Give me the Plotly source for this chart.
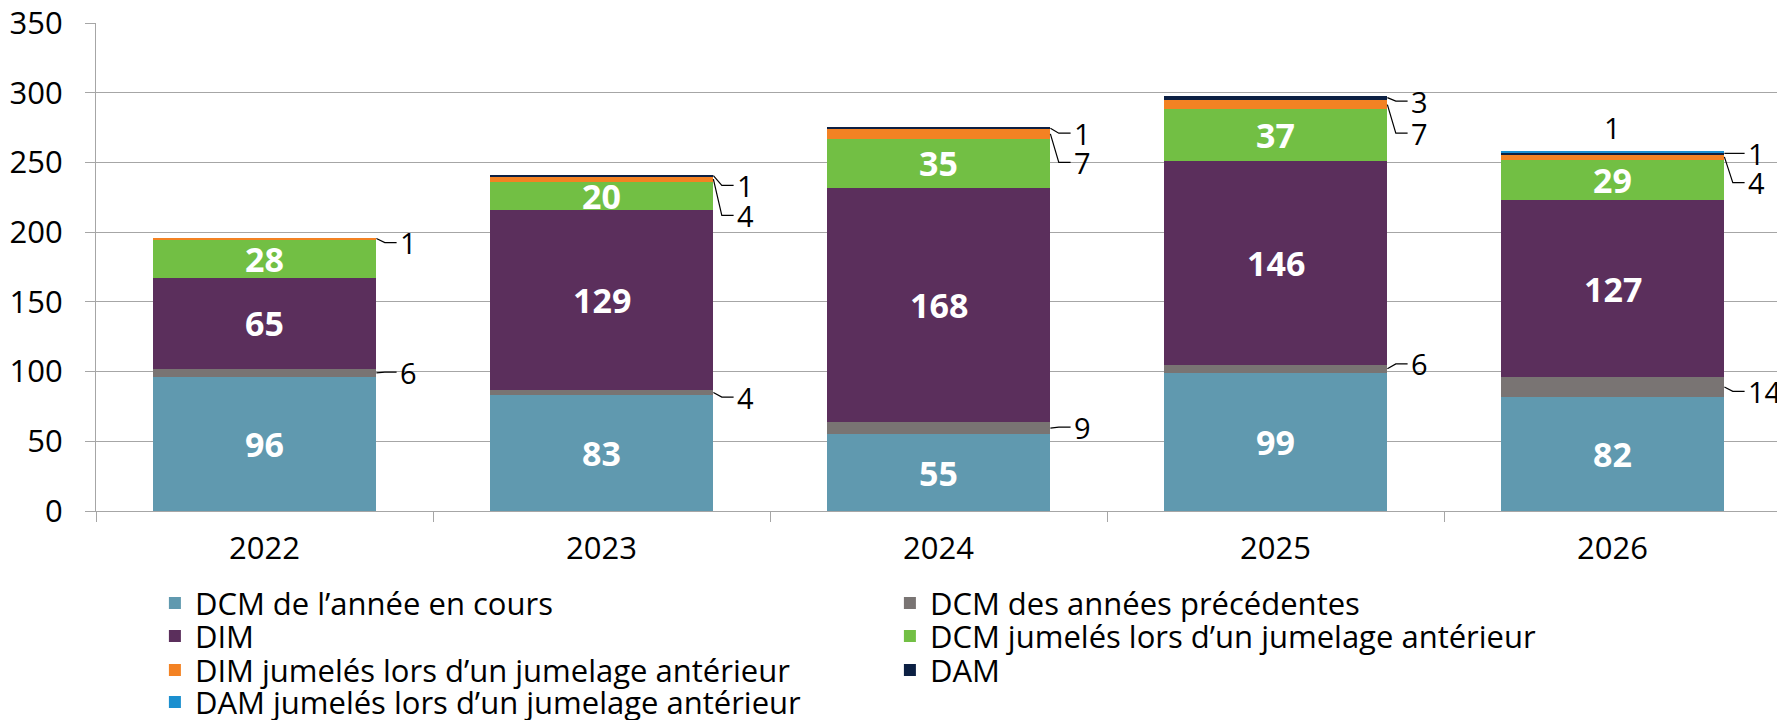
import plotly.graph_objects as go

# ---- data ----
years = ["2022", "2023", "2024", "2025", "2026"]
dcm_cours = [96, 83, 55, 99, 82]
dcm_prec = [6, 4, 9, 6, 14]
dim = [65, 129, 168, 146, 127]
dcm_jum = [28, 20, 35, 37, 29]
dim_jum = [1, 4, 7, 7, 4]
dam = [0, 1, 1, 3, 1]
dam_jum = [0, 0, 0, 0, 1]

series = [
    ("dcm_cours", "DCM de l\u2019ann\u00e9e en cours", dcm_cours, "#6099AF"),
    ("dcm_prec", "DCM des ann\u00e9es pr\u00e9c\u00e9dentes", dcm_prec, "#797473"),
    ("dim", "DIM", dim, "#5B2F5C"),
    ("dcm_jum", "DCM jumel\u00e9s lors d\u2019un jumelage ant\u00e9rieur", dcm_jum, "#72BF44"),
    ("dim_jum", "DIM jumel\u00e9s lors d\u2019un jumelage ant\u00e9rieur", dim_jum, "#F38223"),
    ("dam", "DAM", dam, "#0C2043"),
    ("dam_jum", "DAM jumel\u00e9s lors d\u2019un jumelage ant\u00e9rieur", dam_jum, "#1B8FCF"),
]
inside_labels = ["dcm_cours", "dim", "dcm_jum"]

# callout label placement (series, year index, label y)
callouts = [
    ("dcm_prec", 0, 99.6), ("dim_jum", 0, 192.5),
    ("dcm_prec", 1, 81.7), ("dam", 1, 233.5), ("dim_jum", 1, 212.0),
    ("dcm_prec", 2, 60.2), ("dam", 2, 271.0), ("dim_jum", 2, 250.0),
    ("dcm_prec", 3, 105.5), ("dam", 3, 294.0), ("dim_jum", 3, 271.0),
    ("dcm_prec", 4, 85.8), ("dam", 4, 256.5), ("dim_jum", 4, 235.5),
]
above_labels = [("dam_jum", 4, 275.0)]

FONT = "Open Sans"
xs = list(range(len(years)))
half_w = 0.332

fig = go.Figure()
legend_of = ["legend", "legend", "legend2", "legend2", "legend3", "legend3", "legend4"]
for (key, name, vals, col), lg in zip(series, legend_of):
    fig.add_trace(go.Bar(x=xs, y=vals, name=name, marker=dict(color=col, line=dict(width=0)),
                         width=2 * half_w, legend=lg))

# cumulative bottoms
bottoms = {}
cum = [0] * len(years)
for key, name, vals, col in series:
    bottoms[key] = cum[:]
    cum = [c + v for c, v in zip(cum, vals)]
vals_of = {k: v for k, _, v, _ in series}

annotations = []
shapes = []
for key in inside_labels:
    for i, v in enumerate(vals_of[key]):
        annotations.append(dict(x=xs[i], y=bottoms[key][i] + v / 2, text=str(v), showarrow=False,
                                xref="x", yref="y",
                                font=dict(family=FONT, size=34, color="white", weight="bold")))

for key, i, ly in callouts:
    v = vals_of[key][i]
    mid = bottoms[key][i] + v / 2
    x0 = xs[i] + half_w
    shapes.append(dict(type="path", xref="x", yref="y",
                       path=f"M {x0},{mid} L {x0 + 0.025},{ly} L {x0 + 0.060},{ly}",
                       line=dict(color="black", width=1.2), layer="above"))
    annotations.append(dict(x=xs[i] + half_w + 0.064, y=ly, text=str(v), showarrow=False,
                            xref="x", yref="y", xanchor="left", yanchor="middle",
                            font=dict(family=FONT, size=29, color="black")))
for key, i, ly in above_labels:
    v = vals_of[key][i]
    annotations.append(dict(x=xs[i], y=ly, text=str(v), showarrow=False, xref="x", yref="y",
                            xanchor="center", yanchor="middle",
                            font=dict(family=FONT, size=29, color="black")))

leg_common = dict(orientation="h", x=0.0823, xref="container", yref="container",
                  xanchor="left", yanchor="middle", traceorder="normal",
                  font=dict(family=FONT, size=31, color="black"),
                  entrywidth=690, entrywidthmode="pixels", bgcolor="rgba(0,0,0,0)",
                  itemclick=False, itemdoubleclick=False)

fig.update_layout(
    width=1785, height=720,
    margin=dict(l=88, r=12, t=15, b=217, autoexpand=False),
    barmode="stack",
    paper_bgcolor="white", plot_bgcolor="white",
    font=dict(family=FONT, size=31, color="black"),
    showlegend=True,
    legend=dict(y=0.1731, **leg_common),
    legend2=dict(y=0.1272, **leg_common),
    legend3=dict(y=0.0799, **leg_common),
    legend4=dict(y=0.0356, **leg_common),
    annotations=annotations,
    shapes=shapes,
    xaxis=dict(range=[-0.5, 4.5], tickvals=xs, ticktext=years, ticks="", showgrid=False,
               showline=True, linecolor="#A6A6A6", linewidth=1.3,
               minor=dict(tick0=-0.5, dtick=1, ticks="outside", ticklen=10, tickcolor="#A6A6A6",
                          showgrid=False),
               ticklabelstandoff=10, tickfont=dict(family=FONT, size=31, color="black"),
               ticklabeloverflow="allow",
               zeroline=False, fixedrange=True, automargin=False),
    yaxis=dict(range=[0, 350], dtick=50, ticks="outside", ticklen=10, tickcolor="#A6A6A6",
               showgrid=True, gridcolor="#A6A6A6", gridwidth=1.3,
               showline=True, linecolor="#A6A6A6", linewidth=1.3,
               zeroline=False, ticklabelstandoff=16, ticklabeloverflow="allow",
               tickfont=dict(family=FONT, size=31, color="black"), fixedrange=True,
               automargin=False),
)

fig.write_html("out.html")
